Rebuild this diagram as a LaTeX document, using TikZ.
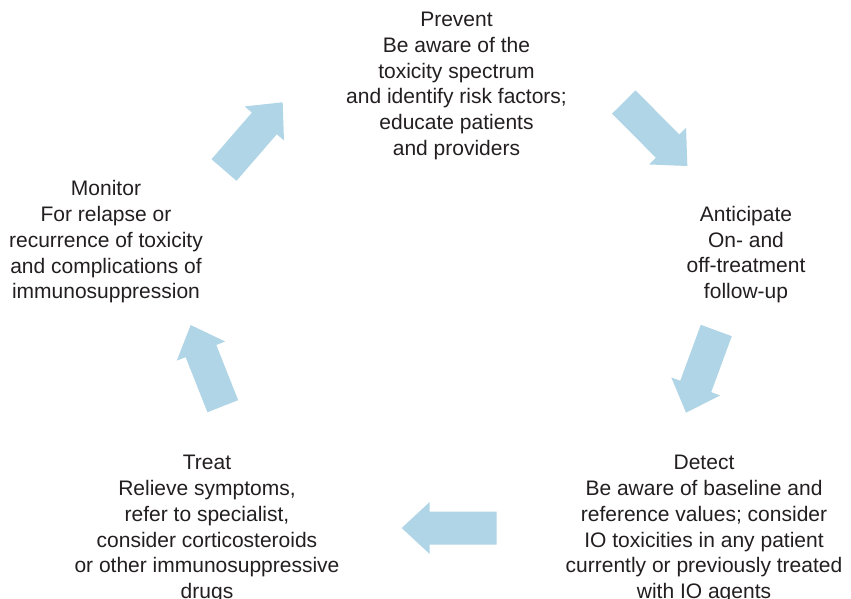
\documentclass[tikz,border=0pt]{standalone}
\usepackage{fontspec}
\setmainfont{Liberation Sans}
\definecolor{arrowblue}{RGB}{176,213,230}
\definecolor{inkgray}{RGB}{35,31,32}

% Block arrow: #1 = tail centre, #2 = direction (deg), #3 = total length
\newcommand\cyclearrow[3]{%
  \begin{scope}[shift={#1},rotate=#2]
    \fill[arrowblue] (0,-16.5) -- ({#3-28},-16.5) -- ({#3-28},-26) -- (#3,0)
      -- ({#3-28},26) -- ({#3-28},16.5) -- (0,16.5) -- cycle;
  \end{scope}}

\begin{document}
\begin{tikzpicture}[x=1pt,y=-1pt,
  stage/.style={anchor=north,align=center,inner sep=0pt,text=inkgray,
    font=\fontsize{21}{25.7}\selectfont}]
\useasboundingbox[fill=white] (0,0) rectangle (851,598);

% stage labels around the cycle
\node[stage] (prevent) at (456.5,12)
  {Prevent\\Be aware of the\\toxicity spectrum\\and identify risk factors;\\educate patients\\and providers};
\node[stage] (anticipate) at (746,206)
  {Anticipate\\On- and\\off-treatment\\follow-up};
\node[stage] (detect) at (704,455.3)
  {Detect\\Be aware of baseline and\\reference values; consider\\IO toxicities in any patient\\currently or previously treated\\with IO agents};
\node[stage] (treat) at (207,455.3)
  {Treat\\Relieve symptoms,\\refer to specialist,\\consider corticosteroids\\or other immunosuppressive\\drugs};
\node[stage] (monitor) at (106,180.5)
  {Monitor\\For relapse or\\recurrence of toxicity\\and complications of\\immunosuppression};

% arrows between stages
\cyclearrow{(224,170)}{49.1}{89.6}
\cyclearrow{(623.8,102)}{-45.2}{90.2}
\cyclearrow{(716.3,330.5)}{-110.2}{87.6}
\cyclearrow{(496.7,528)}{180}{95}
\cyclearrow{(222.8,406.2)}{111.6}{87.3}
\end{tikzpicture}
\end{document}
